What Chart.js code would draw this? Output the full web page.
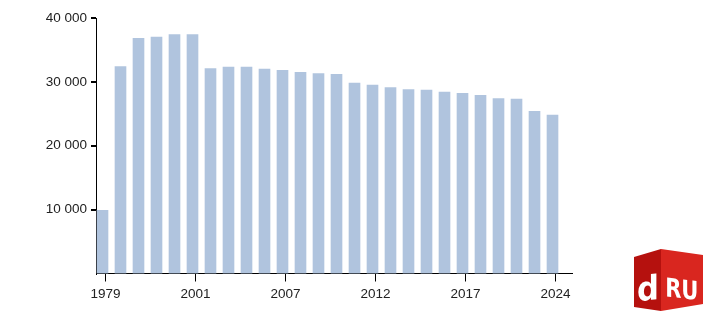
<!DOCTYPE html>
<html>
<head>
<meta charset="utf-8">
<script src="https://cdn.jsdelivr.net/npm/chart.js@4.4.1/dist/chart.umd.min.js"></script>
<style>
  html, body { margin: 0; padding: 0; background: #fff; }
  #wrap { position: relative; width: 711px; height: 320px; }
  #logo { position: absolute; left: 0; top: 0; }
</style>
</head>
<body>
<div id="wrap">
  <canvas id="c" width="711" height="320"></canvas>
  <svg id="logo" width="711" height="320" viewBox="0 0 711 320">
    <polygon points="634,257 661,249 661,311 634,307" fill="#b5110e"/>
    <polygon points="661,249 703,255 703,304 661,311" fill="#d9261f"/>
    <text x="648" y="300" fill="#fff" font-family="DejaVu Sans Condensed, DejaVu Sans" font-weight="bold" font-size="34" text-anchor="middle" transform="matrix(1,-0.12,0,1,0,78)">d</text>
    <text x="682" y="298" fill="#fff" font-family="DejaVu Sans Condensed, DejaVu Sans" font-weight="bold" font-size="26" text-anchor="middle" transform="matrix(0.9,0.1,0,1,68,-68)">RU</text>
  </svg>
</div>
<script>
// ---- data ----
const years = ["1979","1989","1996","1998","2000","2001","2002","2003","2005","2006","2007","2008","2009","2010","2011","2012","2013","2014","2015","2016","2017","2018","2019","2020","2021","2024"];
const population = [9900,32400,36800,37000,37400,37400,32100,32300,32300,32000,31800,31500,31300,31200,29800,29500,29100,28800,28700,28400,28200,27900,27400,27300,25400,24800];
const xTickIndices = [0,5,10,15,20,25];
const yTickValues = [10000,20000,30000,40000];

const points = population.map((v, i) => ({ x: i, y: v }));
const fmt = v => String(v).replace(/\B(?=(\d{3})+(?!\d))/g, ' ');
const font = { family: '"Liberation Sans", Arial, sans-serif', size: 13.5 };

new Chart(document.getElementById('c'), {
  type: 'bar',
  data: {
    datasets: [{
      data: points,
      xAxisID: 'x',
      yAxisID: 'y',
      backgroundColor: '#b0c4de',
      borderWidth: 0,
      barThickness: 11
    }]
  },
  options: {
    responsive: false,
    animation: false,
    devicePixelRatio: 1,
    layout: { padding: { left: 0, right: 139, top: 18, bottom: 0 } },
    plugins: { legend: { display: false }, tooltip: { enabled: false } },
    scales: {
      x: {
        type: 'linear', display: false, bounds: 'data', offset: false,
        grid: { offset: false },
        min: -0.361, max: 26.083
      },
      xt: {
        type: 'linear', position: 'bottom', bounds: 'data', offset: false,
        min: -0.528, max: 25.917,
        afterBuildTicks: s => { s.ticks = xTickIndices.map(v => ({ value: v })); },
        afterFit: s => { s.height = 46.5; },
        ticks: {
          autoSkip: false, maxRotation: 0, padding: 5,
          color: '#222', font: font,
          callback: v => years[v]
        },
        grid: { offset: false, drawOnChartArea: false, drawTicks: true, tickLength: 8, color: '#000', lineWidth: 1 },
        border: { display: true, color: '#000', width: 1 }
      },
      y: {
        type: 'linear', position: 'left', bounds: 'data',
        min: 0, max: 40000,
        afterBuildTicks: s => { s.ticks = yTickValues.map(v => ({ value: v })); },
        afterFit: s => { s.width = 96; },
        ticks: {
          padding: 4, color: '#222', font: font,
          callback: v => fmt(v)
        },
        grid: { drawOnChartArea: false, drawTicks: true, tickLength: 5, color: '#000', lineWidth: 2 },
        border: { display: true, color: '#000', width: 1 }
      }
    }
  }
});
</script>
</body>
</html>
